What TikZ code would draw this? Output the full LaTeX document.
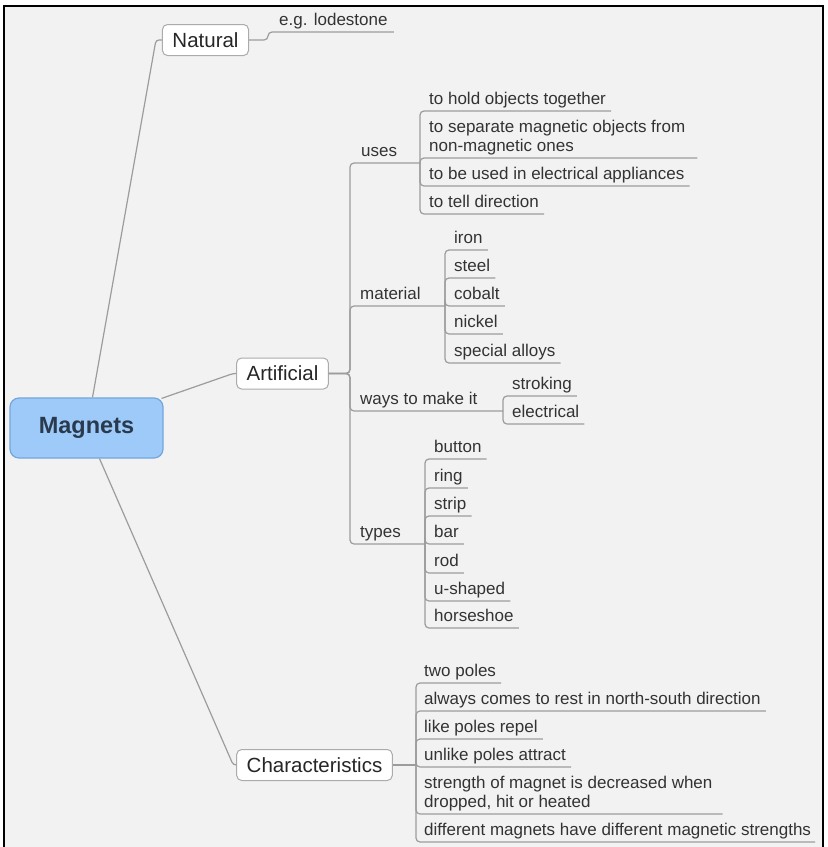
\documentclass[tikz,border=0pt]{standalone}
\usepackage{fontspec}
\setmainfont{Liberation Sans}
\usetikzlibrary{calc}
\definecolor{bg}{HTML}{F2F2F2}
\definecolor{ln}{HTML}{9C9C9C}
\definecolor{tx}{HTML}{333333}
\definecolor{magfill}{HTML}{9DCAF8}
\definecolor{magdraw}{HTML}{72A7DB}
\definecolor{magtext}{HTML}{2A3A4E}
\definecolor{boxdraw}{HTML}{ABABAB}
\tikzset{
 conn/.style={draw=ln, line width=1.2pt, rounded corners=4pt},
 topic/.style={draw=boxdraw, fill=white, rounded corners=5pt, line width=1pt, inner xsep=10pt, minimum height=31pt, font=\fontsize{20.5}{24}\selectfont, text=black!85},
 central/.style={draw=magdraw, fill=magfill, rounded corners=9pt, line width=1.2pt, minimum width=153pt, minimum height=60pt, font=\fontsize{23.5}{28}\selectfont\bfseries, text=magtext},
 leaf/.style={anchor=south west, inner sep=0pt, text depth=6pt, font=\fontsize{17}{19}\selectfont, text=tx},
}
\newcommand\leafnode[6][5]{%
 \node[leaf] (#2) at (#4,#5) {#6};
 \draw[conn] (#3) |- ($(#2.south east)+(#1,0)$);}
\begin{document}
\begin{tikzpicture}[x=1pt,y=-1pt]
\useasboundingbox (0,0) rectangle (828,847);
\fill[white] (0,0) rectangle (828,847);
\fill[bg] (4,6) rectangle (823,847);
\draw[black, line width=1.6pt] (4,847) -- (4,6) -- (823,6) -- (823,847);

% central and main topics
\node[central] (Magnets) at (86.5,428) {Magnets};
\node[topic] (Natural) at (205.5,40) {Natural};
\node[topic] (Artificial) at (282.5,373.5) {Artificial};
\node[topic] (Characteristics) at (314.5,765) {Characteristics};

\coordinate (mN) at ($(Magnets.north)+(6,0)$);
\coordinate (mNE) at ($(Magnets.north east)+(-2,1)$);
\coordinate (mS) at ($(Magnets.south)+(13,0)$);
\draw[conn, rounded corners=3pt] (mN) -- ($(Natural.west)+(-6,0)$) -- (Natural.west);
\draw[conn, rounded corners=3pt] (mNE) -- ($(Artificial.west)+(-3,0)$) -- (Artificial.west);
\draw[conn, rounded corners=3pt] (mS) -- ($(Characteristics.west)+(-3,0)$) -- (Characteristics.west);

% Natural
\coordinate (natJ) at (268,40);
\node[leaf] (lode) at (279,32) {e.g. lodestone};
\draw[conn] (Natural.east) -- (natJ) |- ($(lode.south east)+(6,0)$);

% Artificial
\coordinate (artJ) at (350,373.5);
\coordinate (usesJ) at (420,163);
\coordinate (matJ) at (445,306);
\coordinate (waysJ) at (503,411);
\coordinate (typesJ) at (425,544);
\node[leaf] (uses) at (361,163) {uses};
\node[leaf] (material) at (360,306) {material};
\node[leaf] (ways) at (360,411) {ways to make it};
\node[leaf] (types) at (360,544) {types};
\draw[conn] (Artificial.east) -- (artJ) |- (usesJ);
\draw[conn] (Artificial.east) -- (artJ) |- (matJ);
\draw[conn] (Artificial.east) -- (artJ) |- (waysJ);
\draw[conn] (Artificial.east) -- (artJ) |- (typesJ);

\leafnode{hold}{usesJ}{429}{111}{to hold objects together}
\leafnode[12]{separate}{usesJ}{429}{158}{\begin{tabular}[b]{@{}l@{}}to separate magnetic objects from\\non-magnetic ones\end{tabular}}
\leafnode{appl}{usesJ}{429}{186}{to be used in electrical appliances}
\leafnode{dir}{usesJ}{429}{214}{to tell direction}

\leafnode{iron}{matJ}{454}{250}{iron}
\leafnode{steel}{matJ}{454}{278}{steel}
\leafnode{cobalt}{matJ}{454}{306}{cobalt}
\leafnode{nickel}{matJ}{454}{334}{nickel}
\leafnode{alloys}{matJ}{454}{363}{special alloys}

\leafnode{stroking}{waysJ}{512}{396}{stroking}
\leafnode{electrical}{waysJ}{512}{424}{electrical}

\leafnode{button}{typesJ}{434}{459}{button}
\leafnode{ring}{typesJ}{434}{488}{ring}
\leafnode{strip}{typesJ}{434}{516}{strip}
\leafnode{bar}{typesJ}{434}{544}{bar}
\leafnode{rod}{typesJ}{434}{573}{rod}
\leafnode{ushaped}{typesJ}{434}{601}{u-shaped}
\leafnode{horseshoe}{typesJ}{434}{628}{horseshoe}

% Characteristics
\coordinate (charJ) at (416,765);
\draw[conn] (Characteristics.east) -- (charJ);
\leafnode{twopoles}{charJ}{424}{683}{two poles}
\leafnode{rest}{charJ}{424}{711}{always comes to rest in north-south direction}
\leafnode{repel}{charJ}{424}{739}{like poles repel}
\leafnode{attract}{charJ}{424}{767}{unlike poles attract}
\leafnode[10]{strength}{charJ}{424}{814}{\begin{tabular}[b]{@{}l@{}}strength of magnet is decreased when\\dropped, hit or heated\end{tabular}}
\leafnode[4]{different}{charJ}{424}{842}{different magnets have different magnetic strengths}
\end{tikzpicture}
\end{document}
